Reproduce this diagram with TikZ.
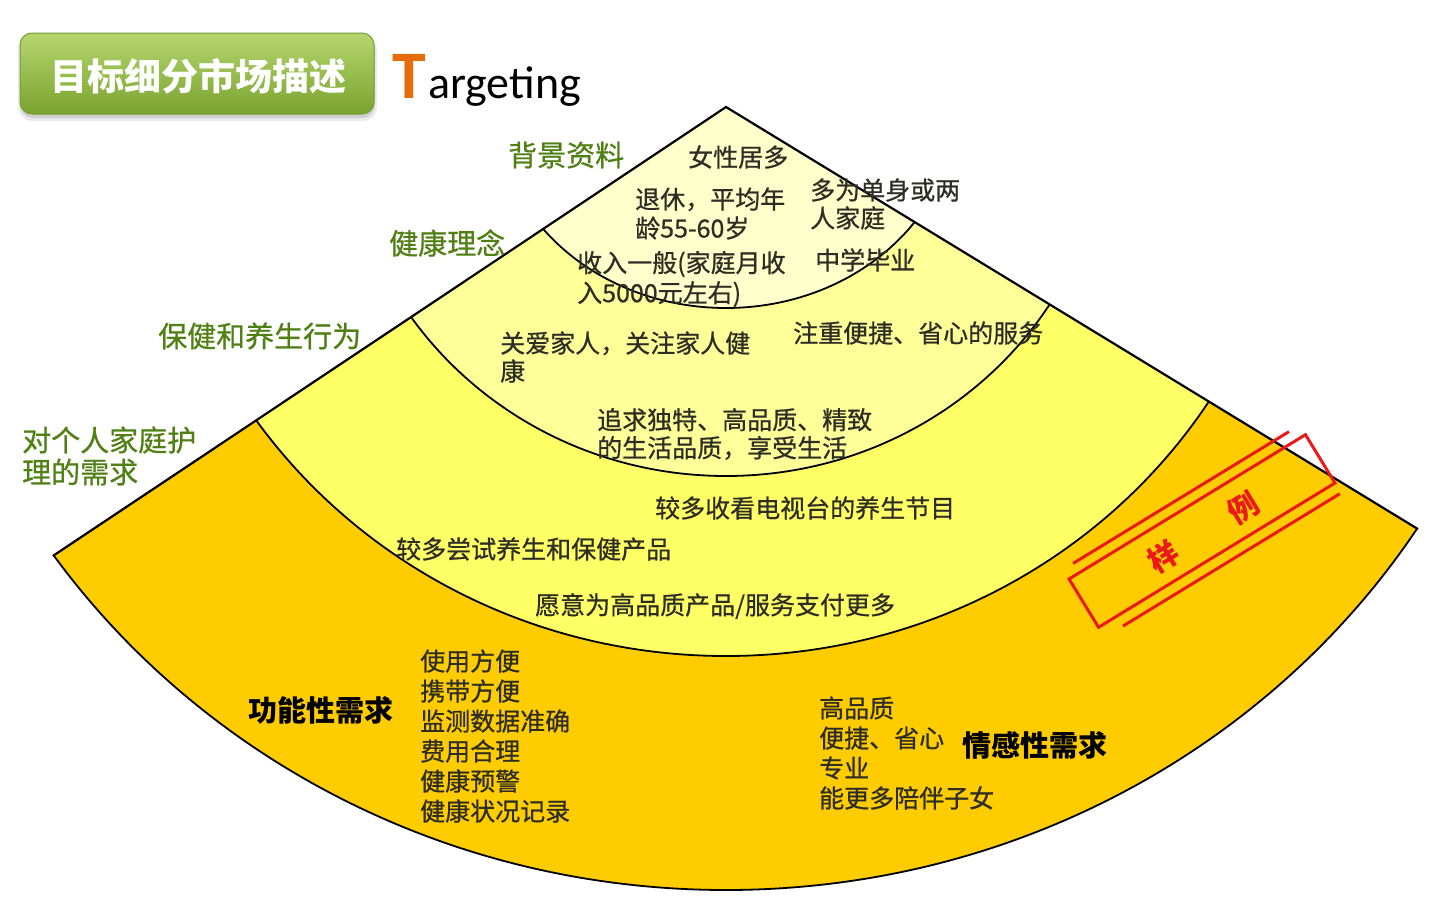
\documentclass[tikz,border=0pt]{standalone}
\usepackage{fontspec}
\newfontfamily\cjk{Noto Sans CJK SC}
\newfontfamily\cjkm[FakeBold=0.7]{Noto Sans CJK SC}
\newfontfamily\calib{Carlito}
\definecolor{ringA}{HTML}{FFCC00}
\definecolor{ringB}{HTML}{FFFF66}
\definecolor{ringC}{HTML}{FFFF99}
\definecolor{ringD}{HTML}{FFFFCC}
\definecolor{lblgreen}{RGB}{80,128,20}
\definecolor{bodytext}{RGB}{45,45,35}
\definecolor{stampred}{RGB}{235,25,25}
\definecolor{btnTop}{RGB}{182,214,110}
\definecolor{btnBot}{RGB}{122,163,48}
\definecolor{btnEdge}{RGB}{118,158,50}
\definecolor{tOrange}{RGB}{228,108,10}
\begin{document}
\begin{tikzpicture}[x=1pt,y=-1pt,
  lbl/.style={font=\cjkm\fontsize{29}{32}\selectfont, text=lblgreen, anchor=west, inner sep=0pt, align=left},
  body/.style={font=\cjkm\fontsize{25}{29}\selectfont, text=bodytext, anchor=west, inner sep=0pt, align=left},
  head/.style={font=\cjk\bfseries\fontsize{29}{32}\selectfont, text=black, anchor=west, inner sep=0pt},
  ring/.style={draw=black, line width=1.8pt},
  stamptext/.style={font=\cjk\bfseries\fontsize{30}{30}\selectfont, text=stampred, rotate=31.4, inner sep=0pt}
]
\useasboundingbox (0,0) rectangle (1446,913);
\fill[white] (0,0) rectangle (1446,913);

% ---- title button ----
\fill[black, opacity=0.08, rounded corners=14pt] (18,36) rectangle (377,121);
\fill[black, opacity=0.12, rounded corners=13pt] (20,35) rectangle (375,118);
\shade[rounded corners=12pt, top color=btnTop, bottom color=btnBot, draw=btnEdge, line width=1pt] (20,33) rectangle (374,114);
\node[font=\cjk\bfseries\fontsize{37}{40}\selectfont, text=white, inner sep=0pt] (title) at (198,76) {目标细分市场描述};
\node[font=\calib\bfseries\fontsize{68}{70}\selectfont, text=tOrange, anchor=base west, inner sep=0pt] (T) at (392,98) {T};
\node[font=\calib\fontsize{46}{50}\selectfont, text=black, anchor=base west, inner sep=0pt] (arg) at (428,98) {argeting};

% ---- fan ----
\coordinate (apex) at (726,107);
\coordinate (lfar) at (26,573.9);
\coordinate (rfar) at (1426,534);
\begin{scope}
  \clip (apex) -- (lfar) -- (26,913) -- (1426,913) -- (rfar) -- cycle;
  \filldraw[fill=ringA, ring] (apex) ellipse [x radius=820pt, y radius=783pt];
  \filldraw[fill=ringB, ring] (apex) ellipse [x radius=572pt, y radius=549pt];
  \filldraw[fill=ringC, ring] (apex) ellipse [x radius=383pt, y radius=369pt];
  \filldraw[fill=ringD, ring] (apex) ellipse [x radius=230pt, y radius=201pt];
\end{scope}
\begin{scope}
  \clip (apex) ellipse [x radius=821pt, y radius=784pt];
  \draw[line width=2.2pt, line join=miter] (lfar) -- (apex) -- (rfar);
\end{scope}

% ---- outside labels ----
\node[lbl] (bg) at (508,155) {背景资料};
\node[lbl] (jk) at (389,243) {健康理念};
\node[lbl] (bj) at (158,336) {保健和养生行为};
\node[lbl] (dg) at (22,456) {对个人家庭护\\理的需求};

% ---- inner texts ----
\node[body] (n1) at (688,157) {女性居多};
\node[body] (n2) at (635,213.5) {退休，平均年\\龄55-60岁};
\node[body, font=\cjkm\fontsize{25}{28}\selectfont] (n3) at (810,204) {多为单身或两\\人家庭};
\node[body, font=\cjkm\fontsize{25}{30}\selectfont] (n4) at (577,279) {收入一般(家庭月收\\入5000元左右)};
\node[body] (n5) at (815,260) {中学毕业};
\node[body, font=\cjkm\fontsize{25}{28}\selectfont] (n6) at (500,357) {关爱家人，关注家人健\\康};
\node[body] (n7) at (793,333) {注重便捷、省心的服务};
\node[body, font=\cjkm\fontsize{25}{28}\selectfont] (n8) at (597,434) {追求独特、高品质、精致\\的生活品质，享受生活};
\node[body] (n9) at (655,508) {较多收看电视台的养生节目};
\node[body] (n10) at (396,549) {较多尝试养生和保健产品};
\node[body] (n11) at (535,606) {愿意为高品质产品/服务支付更多};

\node[head] (h1) at (248,710) {功能性需求};
\node[body, font=\cjkm\fontsize{25}{30}\selectfont] (l1) at (420,736) {使用方便\\携带方便\\监测数据准确\\费用合理\\健康预警\\健康状况记录};
\node[body, font=\cjkm\fontsize{25}{30}\selectfont] (l2) at (819,753) {高品质\\便捷、省心\\专业\\能更多陪伴子女};
\node[head] (h2) at (962,745) {情感性需求};

% ---- stamp ----
\begin{scope}[shift={(1202,531)}, rotate=31.4, draw=stampred, line width=3pt]
  \draw (-138.5,-28.3) rectangle (138.5,28.3);
  \draw (-127,-39.5) -- (126,-39.5);
  \draw (-117,40) -- (137,40);
  \node[stamptext] (s1) at (-46,2) {样};
  \node[stamptext] (s2) at (47,2) {例};
\end{scope}
\end{tikzpicture}
\end{document}
